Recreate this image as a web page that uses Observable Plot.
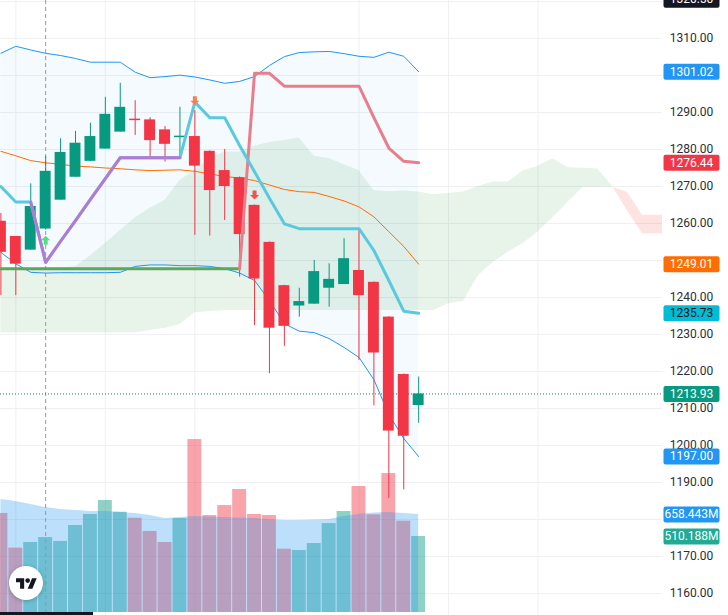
<!DOCTYPE html>
<html><head><meta charset="utf-8">
<script src="https://cdn.jsdelivr.net/npm/d3@7"></script>
<script src="https://cdn.jsdelivr.net/npm/@observablehq/plot@0.6"></script>
<style>
html,body{margin:0;padding:0;background:#fff;}
#chart{position:relative;width:728px;height:615px;overflow:hidden;background:#fff;font-family:Roboto,"Liberation Sans",sans-serif;}
#chart svg{position:absolute;left:0;top:0;}
#tvlogo{position:absolute;left:9px;top:566px;width:34px;height:34px;border-radius:50%;background:#fff;box-shadow:0 1px 4px rgba(0,0,0,0.25);display:flex;align-items:center;justify-content:center;}
#bottombar{position:absolute;left:0;top:612px;width:93px;height:3px;background:#131722;}
</style></head><body><div id="chart"></div>
<script>
// ---- candles ----
const opens  = [1260.6,1256.5,1252.8,1258.5,1266.3,1272.5,1276.8,1280.1,1284.7,1288.2,1288.0,1285.3,1283.2,1283.5,1279.5,1274.3,1272.4,1264.9,1254.9,1243.2,1237.7,1238.2,1242.5,1243.5,1247.3,1244.1,1234.7,1219.2,1210.8];
const highs  = [1262.7,1256.5,1270.7,1278.1,1282.9,1284.9,1287.1,1294.1,1297.9,1293.2,1288.6,1286.2,1291.4,1290.5,1279.6,1280.0,1272.6,1265.0,1255.0,1243.3,1242.5,1250.0,1249.1,1255.9,1258.6,1244.2,1234.8,1219.3,1218.5];
const lows   = [1240.5,1240.5,1252.8,1258.2,1266.3,1272.5,1276.8,1280.1,1284.7,1283.8,1277.4,1276.6,1277.4,1256.8,1256.6,1260.8,1245.5,1232.4,1219.4,1226.8,1234.7,1238.2,1237.4,1243.5,1223.0,1210.7,1185.7,1188.0,1206.0];
const closes = [1252.2,1249.0,1264.6,1274.1,1279.2,1281.7,1283.5,1289.5,1291.4,1287.8,1282.4,1281.4,1283.6,1275.5,1268.9,1270.0,1257.0,1245.0,1231.7,1232.2,1238.9,1247.0,1244.9,1250.5,1240.5,1225.0,1203.9,1202.5,1213.93];
// ---- volume (millions) ----
const volumes  = [665,432,470,503,477,584,658,752,673,633,544,470,631,1161,651,718,826,658,651,425,416,463,597,678,846,656,933,613,510.188];
const volumeMA = [759,745,725,705,691,685,678,678,671,665,651,631,638,644,641,638,634,631,624,618,618,621,624,644,658,668,671,665,658.443];
// ---- indicators ----
const bbUpper = [1306.0,1307.9,1306.9,1306.0,1305.4,1304.6,1303.6,1303.6,1303.6,1300.9,1299.4,1299.7,1300.1,1299.6,1298.8,1297.9,1298.4,1299.7,1302.7,1305.1,1306.2,1306.4,1306.5,1305.9,1305.2,1304.9,1306.3,1305.2,1301.02];
const bbLower = [1252.2,1249.1,1246.8,1246.6,1246.7,1246.7,1246.7,1246.7,1246.8,1248.4,1248.8,1248.8,1248.6,1248.6,1248.4,1247.8,1246.6,1244.6,1239.2,1232.9,1230.9,1230.5,1228.9,1226.5,1223.8,1217.8,1208.4,1201.9,1197.0];
const maLine  = [1279.5,1278.3,1277.0,1276.4,1276.0,1275.5,1275.3,1275.0,1274.8,1274.5,1274.3,1274.4,1274.5,1274.1,1273.4,1272.7,1272.3,1271.6,1270.4,1269.2,1268.6,1268.4,1267.3,1266.1,1264.5,1261.8,1257.8,1253.8,1249.01];
const cyanLine = [1270.0,1265.8,1265.8,1249.5,1255.2,1260.8,1266.5,1272.1,1277.8,1277.8,1277.8,1277.8,1277.8,1292.8,1288.6,1288.6,1281.1,1274.0,1266.8,1259.9,1258.6,1258.6,1258.6,1258.6,1258.6,1252.7,1244.6,1236.3,1235.73];
const purpleLine = [null,null,1265.8,1249.5,1255.2,1260.8,1266.5,1272.1,1277.8,1277.8,1277.8,1277.8,1277.8,null,null,null,null,null,null,null,null,null,null,null,null,null,null,null,null];
const greenStop = [1247.8,1247.8,1247.8,1247.8,1247.8,1247.8,1247.8,1247.8,1247.8,1247.8,1247.8,1247.8,1247.8,1247.8,1247.8,1247.8,1247.8,null,null,null,null,null,null,null,null,null,null,null,null];
const redStop   = [null,null,null,null,null,null,null,null,null,null,null,null,null,null,null,null,1247.8,1300.6,1300.6,1297.1,1297.1,1297.1,1297.1,1297.1,1297.1,1288.6,1280.4,1276.8,1276.44];
// Ichimoku cloud (extends 17 bars into the future)
const spanA = [1247.5,1247.5,1247.6,1247.8,1248.0,1248.3,1251.2,1254.6,1258.1,1261.5,1264.1,1266.2,1271.6,1274.3,1277.6,1279.3,1279.3,1280.9,1281.9,1282.4,1283.1,1278.2,1277.6,1275.9,1274.3,1268.9,1268.6,1268.8,1268.5,1267.8,1268.1,1268.5,1270.0,1271.2,1271.2,1274.2,1275.5,1277.5,1275.1,1274.9,1274.7,1270.0,1263.4,1257.2,1257.2,1257.2];
const spanB = [1230.4,1230.4,1230.4,1230.4,1230.4,1230.4,1230.4,1230.4,1230.4,1230.4,1231.1,1231.6,1232.7,1235.9,1236.2,1236.5,1236.5,1236.5,1236.5,1236.5,1236.5,1236.5,1236.5,1236.5,1236.5,1236.5,1236.5,1236.5,1236.5,1236.5,1238.3,1239.0,1245.9,1249.5,1252.2,1254.6,1257.7,1261.6,1265.7,1269.7,1269.8,1269.8,1268.4,1262.2,1262.2,1262.2];
const cloudCross = 41;
// signals
const buySignals = [3];
const sellSignalsOrange = [13];
const sellSignalsRed = [17];
const crosshairIndex = 3;
// axis
const gridPrices = [1160,1170,1180,1190,1200,1210,1220,1230,1240,1250,1260,1270,1280,1290,1300,1310,1320];
const tickLabels = [1310,1290,1280,1270,1260,1240,1230,1220,1210,1200,1190,1170,1160];
const gridIndices = [1,7,13,24,30,36];
const priceLabelNames  = ["bbUpper","stop","ma","cyan","close","bbLower","cursor"];
const priceLabelValues = [1301.02,1276.44,1249.01,1235.73,1213.93,1197.00,1320.5];
const priceLabelTexts  = ["1301.02","1276.44","1249.01","1235.73","1213.93","1197.00","1320.50"];
const volumeLabelNames  = ["volMA","volume"];
const volumeLabelValues = [658.443,510.188];
const volumeLabelTexts  = ["658.443M","510.188M"];

// ---- styles ----
const GREEN = "#089981", RED = "#f23645";
const labelStyle = {
  bbUpper:{bg:"#2196f3",fg:"#fff"}, stop:{bg:"#f23645",fg:"#fff"}, ma:{bg:"#ff6d00",fg:"#fff"},
  cyan:{bg:"#00bcd4",fg:"#131722"}, close:{bg:"#089981",fg:"#fff"}, bbLower:{bg:"#2196f3",fg:"#fff"},
  cursor:{bg:"#131722",fg:"#fff"}, volMA:{bg:"#2196f3",fg:"#fff"}, volume:{bg:"#22ab94",fg:"#fff"}
};
const W = 728, H = 615, MR = 66;
const X_DOMAIN = [-0.027, 44.343];
const Y_DOMAIN = [1154.05, 1320.27];

const boxSymbol = {draw(ctx){const w=28,h=8,r=2;
  ctx.moveTo(-w+r,-h);ctx.lineTo(w-r,-h);ctx.arcTo(w,-h,w,-h+r,r);ctx.lineTo(w,h-r);ctx.arcTo(w,h,w-r,h,r);
  ctx.lineTo(-w+r,h);ctx.arcTo(-w,h,-w,h-r,r);ctx.lineTo(-w,-h+r);ctx.arcTo(-w,-h,-w+r,-h,r);ctx.closePath();}};
const upArrow = {draw(ctx){ctx.moveTo(0,-4.5);ctx.lineTo(4.5,0);ctx.lineTo(2,0);ctx.lineTo(2,4.5);ctx.lineTo(-2,4.5);ctx.lineTo(-2,0);ctx.lineTo(-4.5,0);ctx.closePath();}};
const downArrow = {draw(ctx){ctx.moveTo(0,4.5);ctx.lineTo(4.5,0);ctx.lineTo(2,0);ctx.lineTo(2,-4.5);ctx.lineTo(-2,-4.5);ctx.lineTo(-2,0);ctx.lineTo(-4.5,0);ctx.closePath();}};

const idx = d3.range(closes.length);
const cloudIdx = d3.range(spanA.length);
const candles = idx.map(i => ({i, o:opens[i], h:highs[i], l:lows[i], c:closes[i]}));
const upC = candles.filter(d => d.c >= d.o), downC = candles.filter(d => d.c < d.o);
const priceLabels = priceLabelNames.map((n,k)=>({n, v:priceLabelValues[k], t:priceLabelTexts[k]}));
const volumeLabels = volumeLabelNames.map((n,k)=>({n, v:volumeLabelValues[k], t:volumeLabelTexts[k]}));

const baseOpts = {width:W, height:H, marginLeft:0, marginRight:MR, marginTop:0, marginBottom:0,
  x:{domain:X_DOMAIN, axis:null}, y:{domain:Y_DOMAIN, axis:null},
  style:{background:"transparent", fontFamily:"Roboto, 'Liberation Sans', sans-serif", overflow:"visible"}};

function labelMarks(data){
  const out = [];
  for (const d of data) {
    const s = labelStyle[d.n];
    out.push(Plot.dot([d], {y:"v", symbol:boxSymbol, r:5, fill:s.bg, stroke:"none", frameAnchor:"right", dx:29}));
    out.push(Plot.text([d], {y:"v", text:"t", fill:s.fg, fontSize:12, frameAnchor:"right", dx:29, textAnchor:"middle"}));
  }
  return out;
}

// layer 1: grid + fills
const layer1 = Plot.plot({...baseOpts, marks:[
  Plot.ruleY(gridPrices, {y:d=>d, stroke:"#eef0f4", strokeWidth:1}),
  Plot.ruleX(gridIndices, {x:d=>d, stroke:"#eef0f4", strokeWidth:1}),
  Plot.areaY(idx, {x:i=>i, y1:i=>bbLower[i], y2:i=>bbUpper[i], fill:"#2196f3", fillOpacity:0.05, clip:true}),
  Plot.areaY(cloudIdx.filter(i=>i<=cloudCross), {x:i=>i, y1:i=>spanA[i], y2:i=>spanB[i], fill:"#43a047", fillOpacity:0.12, clip:true}),
  Plot.areaY(cloudIdx.filter(i=>i>=cloudCross), {x:i=>i, y1:i=>spanA[i], y2:i=>spanB[i], fill:"#f44336", fillOpacity:0.14, clip:true})
]});

// layer 2: volume
const upV = idx.filter(i=>closes[i]>=opens[i]), downV = idx.filter(i=>closes[i]<opens[i]);
const layer2 = Plot.plot({...baseOpts, marginBottom:3, y:{domain:[0,4108.5], axis:null}, marks:[
  Plot.rectY(upV, {x1:i=>i-0.5, x2:i=>i+0.5, y:i=>volumes[i], fill:GREEN, fillOpacity:0.45, insetLeft:0.5, insetRight:0.5, clip:true}),
  Plot.rectY(downV, {x1:i=>i-0.5, x2:i=>i+0.5, y:i=>volumes[i], fill:RED, fillOpacity:0.45, insetLeft:0.5, insetRight:0.5, clip:true}),
  Plot.areaY(idx, {x:i=>i, y:i=>volumeMA[i], fill:"#2196f3", fillOpacity:0.3, clip:true}),
  ...labelMarks(volumeLabels)
]});

// layer 3: price
const defd = arr => idx.filter(i => arr[i] != null);
const layer3 = Plot.plot({...baseOpts, marks:[
  Plot.ruleX([crosshairIndex], {x:d=>d, stroke:"#9598a1", strokeWidth:1, strokeDasharray:"4,3"}),
  Plot.ruleY([closes[closes.length-1]], {y:d=>d, stroke:"#2a7a6c", strokeWidth:1, strokeDasharray:"1,2"}),
  Plot.line(idx, {x:i=>i, y:i=>bbUpper[i], stroke:"#2196f3", strokeWidth:1, clip:true}),
  Plot.line(idx, {x:i=>i, y:i=>bbLower[i], stroke:"#2196f3", strokeWidth:1, clip:true}),
  Plot.line(idx, {x:i=>i, y:i=>maLine[i], stroke:"#ff6d00", strokeWidth:1, clip:true}),
  Plot.ruleX(upC, {x:"i", y1:"l", y2:"h", stroke:GREEN, strokeWidth:1}),
  Plot.ruleX(downC, {x:"i", y1:"l", y2:"h", stroke:RED, strokeWidth:1}),
  Plot.rect(upC, {x1:d=>d.i-0.5, x2:d=>d.i+0.5, y1:"o", y2:"c", fill:GREEN, insetLeft:2, insetRight:2, clip:true}),
  Plot.rect(downC, {x1:d=>d.i-0.5, x2:d=>d.i+0.5, y1:"o", y2:"c", fill:RED, insetLeft:2, insetRight:2, clip:true}),
  Plot.line(defd(greenStop), {x:i=>i, y:i=>greenStop[i], stroke:"#5aa75d", strokeWidth:3, clip:true}),
  Plot.line(defd(redStop), {x:i=>i, y:i=>redStop[i], stroke:"#ea7d8c", strokeWidth:3, clip:true}),
  Plot.line(idx, {x:i=>i, y:i=>cyanLine[i], stroke:"#58c9df", strokeWidth:3, clip:true}),
  Plot.line(defd(purpleLine), {x:i=>i, y:i=>purpleLine[i], stroke:"#b37ad5", strokeWidth:3, clip:true}),
  Plot.dot(buySignals, {x:d=>d, y:d=>lows[d], dy:10, symbol:upArrow, r:5, fill:"#4ee27e", stroke:"none"}),
  Plot.dot(sellSignalsOrange, {x:d=>d, y:d=>highs[d], dy:-10, symbol:downArrow, r:5, fill:"#f5814f", stroke:"none"}),
  Plot.dot(sellSignalsRed, {x:d=>d, y:d=>highs[d], dy:-10, symbol:downArrow, r:5, fill:"#ef5350", stroke:"none"}),
  Plot.text(tickLabels, {y:d=>d, text:d=>d.toFixed(2), fill:"#2a2e39", fontSize:12, frameAnchor:"right", dx:29, textAnchor:"middle"}),
  ...labelMarks(priceLabels)
]});

const chart = document.getElementById("chart");
chart.append(layer1, layer2, layer3);
const bar = document.createElement("div"); bar.id = "bottombar"; chart.append(bar);
const logo = document.createElement("div"); logo.id = "tvlogo";
logo.innerHTML = '<svg width="21" height="11" viewBox="0 4 36 18" style="position:static"><path d="M14 22H7V11H0V4h14v18zM28 22h-8l7.5-18h8L28 22z" fill="#131722"/><circle cx="20" cy="8" r="4" fill="#131722"/></svg>';
chart.append(logo);
</script></body></html>
